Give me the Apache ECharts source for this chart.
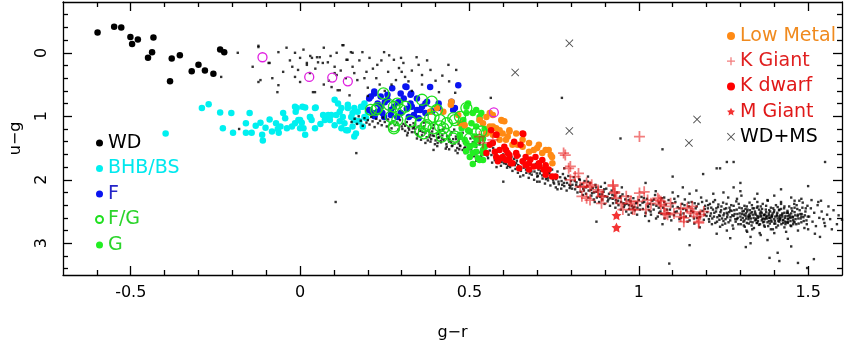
<!DOCTYPE html>
<html>
<head>
<meta charset="utf-8">
<script src="https://cdn.jsdelivr.net/npm/echarts@6/dist/echarts.min.js"></script>
<style>
  html, body { margin: 0; padding: 0; background: #fff; }
  #main { width: 850px; height: 351px; }
</style>
</head>
<body>
<div id="main"></div>
<script>
// tick values
var xMajorTicks = [-0.5, 0, 0.5, 1, 1.5];
var xMinorTicks = [-0.6, -0.4, -0.3, -0.2, -0.1, 0.1, 0.2, 0.3, 0.4, 0.6, 0.7, 0.8, 0.9, 1.1, 1.2, 1.3, 1.4];
var yMajorTicks = [0, 1, 2, 3];
var yMinorTicks = [-0.6, -0.4, -0.2, 0.2, 0.4, 0.6, 0.8, 1.2, 1.4, 1.6, 1.8, 2.2, 2.4, 2.6, 2.8, 3.2, 3.4];

// field stars (small black dots): upper scatter, stellar locus, right-side scatter
var fieldUpper = [[0.128,-0.12],[0.108,0.0],[0.05,0.07],[0.03,0.05],[0.053,0.15],[-0.006,0.27],[0.02,0.19],[0.082,0.15],[0.137,0.11],[0.155,0.0],[0.184,-0.01],[0.248,-0.01],[0.263,0.04],[0.277,0.11],[0.298,0.08],[0.344,0.07],[0.35,0.19],[0.228,0.19],[0.196,0.30],[0.292,0.24],[0.385,0.27],[0.461,0.27],[0.169,0.43],[0.225,0.40],[0.283,0.43],[0.108,0.35],[0.044,0.62],[0.111,0.59],[0.146,0.67],[0.19,0.40],[0.438,0.19],[0.458,0.63],[0.563,0.71],[0.773,0.71],[0.102,0.22],[-0.123,-0.11],[-0.184,0.0],[-0.064,-0.01],[-0.093,0.16],[-0.015,0.0],[0.0,0.08],[0.02,0.16],[0.035,0.08],[0.058,0.07],[0.067,0.16],[0.029,0.32],[-0.015,0.38],[0.0,0.46],[-0.023,0.22],[-0.082,0.40],[-0.064,0.51],[-0.067,0.62],[-0.123,0.46],[-0.117,0.43],[0.125,-0.12],[0.15,-0.01],[0.14,0.11],[0.155,0.22],[0.102,0.32],[0.117,0.59],[0.093,0.54],[0.038,0.62],[-0.233,0.38],[-0.123,-0.09],[-0.09,0.16],[0.105,2.35],[0.6,2.03],[0.166,1.58],[0.394,1.53],[-0.18,1.2],[0.3,0.3],[0.32,0.45],[0.2,0.55],[0.41,0.62],[0.07,0.5],[0.25,0.6],
[0.01,-0.05],[0.045,0.25],[0.07,-0.08],[0.09,0.05],[0.12,0.28],[0.135,0.4],[0.16,0.32],[0.175,0.12],[0.205,0.08],[0.215,0.25],[0.24,0.12],[0.26,0.3],[0.27,0.5],[0.305,0.16],[0.31,0.38],[0.33,0.28],[0.36,0.35],[0.375,0.12],[0.4,0.44],[0.42,0.36],[-0.03,0.12],[-0.05,0.3],[-0.14,0.22],[-0.04,-0.08],[0.085,0.44],[0.2,0.68],[0.235,0.5],[0.33,0.6],[0.36,0.5],[0.44,0.45]];

var fieldLocus = [
[0.152,1.09],[0.161,1.04],[0.168,1.12],[0.173,1.00],[0.179,1.07],[0.185,1.15],[0.19,1.03],[0.196,1.10],[0.2,1.06],[0.205,1.13],[0.21,1.01],[0.214,1.08],[0.22,1.17],[0.225,1.04],[0.23,1.11],[0.236,1.07],[0.241,1.14],[0.245,1.02],[0.25,1.09],[0.256,1.16],[0.26,1.05],[0.266,1.12],[0.27,1.19],[0.275,1.08],[0.28,1.14],[0.286,1.10],[0.29,1.21],[0.295,1.06],[0.3,1.16],[0.305,1.12],[0.31,1.23],[0.315,1.09],[0.32,1.18],[0.325,1.14],[0.33,1.25],[0.335,1.11],[0.34,1.20],[0.345,1.28],[0.35,1.16],[0.355,1.23],
[0.36,1.30],[0.365,1.19],[0.37,1.26],[0.374,1.33],[0.378,1.22],[0.383,1.29],[0.387,1.36],[0.39,1.24],[0.395,1.31],[0.4,1.38],[0.404,1.27],[0.408,1.34],[0.412,1.22],[0.416,1.41],[0.42,1.30],[0.424,1.37],[0.428,1.26],[0.432,1.44],[0.436,1.33],[0.44,1.40],[0.444,1.29],[0.448,1.47],[0.452,1.36],[0.456,1.43],[0.46,1.32],[0.464,1.50],[0.468,1.39],[0.472,1.46],[0.476,1.35],[0.48,1.53],[0.484,1.42],[0.488,1.49],[0.492,1.38],[0.496,1.56],[0.5,1.45],[0.505,1.52],[0.51,1.41],[0.515,1.59],[0.52,1.48],[0.525,1.55],[0.53,1.44],[0.535,1.62],[0.54,1.51],[0.545,1.58],[0.55,1.47],[0.555,1.66],[0.56,1.54],[0.565,1.61],[0.57,1.50],[0.575,1.69],[0.58,1.57],[0.585,1.64],[0.59,1.53],[0.595,1.72],[0.6,1.60],
[0.604,1.68],[0.608,1.75],[0.612,1.59],[0.616,1.71],[0.62,1.80],[0.624,1.64],[0.628,1.73],[0.632,1.67],[0.636,1.83],[0.64,1.70],[0.644,1.77],[0.648,1.62],[0.652,1.86],[0.656,1.74],[0.66,1.81],[0.664,1.69],[0.668,1.89],[0.672,1.78],[0.676,1.84],[0.68,1.72],[0.684,1.92],[0.688,1.81],[0.692,1.87],[0.696,1.75],[0.7,1.95],[0.704,1.84],[0.708,1.90],[0.712,1.78],[0.716,1.98],[0.72,1.87],[0.724,1.93],[0.728,1.81],[0.732,2.01],[0.736,1.90],[0.74,1.96],[0.744,1.84],[0.748,2.04],[0.752,1.93],[0.756,1.99],[0.76,1.87],[0.764,2.07],[0.768,1.96],[0.772,2.02],[0.776,1.91],[0.78,2.10],[0.784,1.99],[0.788,2.05],[0.792,1.94],[0.796,2.13],[0.8,2.02],[0.76,2.15],[0.7,2.03],[0.65,1.95],[0.72,1.70],[0.78,1.82],
[0.804,2.08],[0.808,1.96],[0.812,2.15],[0.816,2.04],[0.82,2.11],[0.824,1.99],[0.828,2.19],[0.832,2.07],[0.836,2.14],[0.84,2.02],[0.844,2.22],[0.848,2.10],[0.852,2.17],[0.856,2.05],[0.86,2.25],[0.864,2.13],[0.868,2.20],[0.872,2.08],[0.876,2.28],[0.88,2.16],[0.884,2.23],[0.888,2.11],[0.892,2.31],[0.896,2.19],[0.9,2.26],[0.904,2.14],[0.908,2.34],[0.912,2.22],[0.916,2.29],[0.92,2.17],[0.924,2.37],[0.928,2.25],[0.932,2.32],[0.936,2.20],[0.94,2.40],[0.944,2.28],[0.948,2.35],[0.952,2.23],[0.956,2.43],[0.96,2.31],[0.964,2.38],[0.968,2.26],[0.972,2.46],[0.976,2.34],[0.98,2.41],[0.984,2.29],[0.988,2.48],[0.992,2.37],[0.996,2.44],[1.0,2.32],[0.85,1.95],[0.9,2.05],[0.95,2.12],[0.87,2.35],[0.97,2.55],
[1.004,2.40],[1.008,2.27],[1.012,2.46],[1.016,2.35],[1.02,2.52],[1.024,2.30],[1.028,2.43],[1.032,2.38],[1.036,2.55],[1.04,2.33],[1.044,2.47],[1.048,2.24],[1.052,2.41],[1.056,2.58],[1.06,2.36],[1.064,2.50],[1.068,2.29],[1.072,2.44],[1.076,2.61],[1.08,2.39],[1.084,2.53],[1.088,2.32],[1.092,2.47],[1.096,2.64],[1.1,2.42],[1.104,2.56],[1.108,2.35],[1.112,2.50],[1.116,2.26],[1.12,2.45],[1.124,2.60],[1.128,2.38],[1.132,2.53],[1.136,2.31],[1.14,2.48],[1.144,2.66],[1.148,2.42],[1.152,2.57],[1.156,2.35],[1.16,2.51],[1.164,2.69],[1.168,2.45],[1.172,2.60],[1.176,2.38],[1.18,2.54],[1.184,2.28],[1.188,2.49],[1.192,2.63],[1.196,2.41],[1.2,2.57],[1.05,2.18],[1.1,2.20],[1.15,2.22],[1.18,2.75],[1.12,2.78],[1.03,2.65],[1.07,2.70],[1.2,2.33],[1.17,2.17],[1.13,2.12],
[1.204,2.45],[1.207,2.62],[1.21,2.38],[1.213,2.53],[1.216,2.70],[1.219,2.47],[1.222,2.58],[1.225,2.32],[1.228,2.50],[1.231,2.66],[1.234,2.43],[1.237,2.56],[1.24,2.74],[1.243,2.48],[1.246,2.61],[1.249,2.36],[1.252,2.53],[1.255,2.69],[1.258,2.45],[1.261,2.59],[1.264,2.28],[1.267,2.51],[1.27,2.64],[1.273,2.40],[1.276,2.56],[1.279,2.77],[1.282,2.48],[1.285,2.62],[1.288,2.34],[1.291,2.54],[1.294,2.70],[1.297,2.44],[1.3,2.58],[1.303,2.25],[1.306,2.50],[1.309,2.66],[1.312,2.41],[1.315,2.57],[1.318,2.80],[1.321,2.47],[1.324,2.62],[1.327,2.36],[1.33,2.53],[1.333,2.72],[1.336,2.45],[1.339,2.60],[1.342,2.30],[1.345,2.55],[1.348,2.68],[1.351,2.42],[1.354,2.58],[1.357,2.84],[1.36,2.50],[1.363,2.64],[1.366,2.38],[1.369,2.56],[1.372,2.74],[1.375,2.47],[1.378,2.61],[1.381,2.33],[1.384,2.53],[1.387,2.69],[1.39,2.44],[1.393,2.59],[1.396,2.78],[1.399,2.51],[1.402,2.65],[1.405,2.40],[1.408,2.57],[1.411,2.72],[1.414,2.48],[1.417,2.62],[1.42,2.35],[1.423,2.55],[1.426,2.68],[1.429,2.45],[1.432,2.60],[1.435,2.82],[1.438,2.52],[1.441,2.66],[1.444,2.42],[1.447,2.58],[1.45,2.73],[1.453,2.49],[1.456,2.63],[1.459,2.38],[1.462,2.56],[1.465,2.70],[1.468,2.46],[1.471,2.61],[1.474,2.33],[1.477,2.54],[1.48,2.67],[1.483,2.44],[1.486,2.59],[1.489,2.76],[1.492,2.50],[1.495,2.64],[1.498,2.41],
[1.302,2.63],[1.311,2.55],[1.319,2.68],[1.326,2.59],[1.334,2.51],[1.343,2.64],[1.35,2.57],[1.358,2.70],[1.365,2.62],[1.373,2.55],[1.38,2.67],[1.388,2.60],[1.395,2.53],[1.403,2.69],[1.41,2.61],[1.418,2.56],[1.425,2.64],[1.433,2.70],[1.44,2.57],[1.448,2.65],[1.455,2.59],[1.363,2.52],[1.392,2.66],[1.376,2.59],[1.415,2.66],[1.346,2.61],[1.33,2.66],[1.317,2.61],[1.28,2.57],[1.26,2.52],[1.24,2.57],[1.43,2.52],[1.46,2.67],[1.47,2.55],[1.385,2.48],[1.355,2.47],[1.315,2.46],[1.41,2.43],[1.44,2.62],[1.37,2.66],
[1.25,2.2],[1.3,2.18],[1.35,2.22],[1.4,2.25],[1.45,2.28],[1.28,2.12],[1.42,2.15],[1.48,2.3],[1.22,2.22],[1.33,2.9],[1.38,2.95],[1.27,2.92],[1.44,2.93],[1.23,2.85],
[1.503,2.58],[1.508,2.45],[1.513,2.66],[1.518,2.52],[1.523,2.73],[1.528,2.40],[1.533,2.60],[1.54,2.50],[1.548,2.68],[1.556,2.55],[1.565,2.62],[1.575,2.48],[1.585,2.7],[1.52,2.85],[1.51,2.32]
];

// second pass over the locus, where the band is densest
var fieldLocusDense = [
[0.302,1.20],[0.318,1.26],[0.333,1.19],[0.348,1.31],[0.362,1.25],[0.377,1.38],[0.391,1.30],[0.406,1.42],[0.419,1.35],[0.433,1.48],[0.446,1.41],[0.459,1.54],[0.473,1.47],[0.487,1.58],[0.499,1.52],[0.513,1.63],[0.527,1.57],[0.541,1.68],[0.553,1.62],[0.567,1.73],[0.581,1.67],[0.593,1.78],[0.345,1.35],[0.405,1.47],[0.465,1.58],[0.52,1.70],[0.58,1.80],[0.37,1.42],[0.44,1.52],[0.5,1.62],
[0.31,1.15],[0.322,1.21],[0.336,1.17],[0.352,1.22],[0.366,1.16],[0.381,1.24],[0.393,1.19],[0.407,1.28],[0.421,1.22],[0.434,1.31],[0.448,1.25],[0.461,1.36],[0.474,1.29],[0.489,1.40],[0.503,1.35],[0.517,1.46],[0.531,1.40],[0.546,1.52],[0.316,1.30],[0.338,1.25],[0.357,1.37],[0.382,1.33],[0.398,1.44],[0.415,1.39],[0.43,1.51],[0.45,1.46],[0.468,1.43],[0.485,1.50],[0.51,1.55],[0.365,1.10],[0.395,1.14],[0.425,1.18],[0.455,1.21],[0.48,1.26],[0.34,1.13],[0.41,1.33],[0.44,1.36],[0.47,1.52],[0.385,1.40],[0.52,1.60],
[0.602,1.74],[0.611,1.81],[0.619,1.70],[0.627,1.86],[0.634,1.77],[0.643,1.89],[0.651,1.80],[0.659,1.93],[0.667,1.84],[0.675,1.97],[0.683,1.87],[0.691,2.00],[0.699,1.90],[0.707,2.03],[0.715,1.93],[0.723,2.06],[0.731,1.97],[0.739,2.09],[0.747,2.00],[0.755,2.12],[0.763,2.03],[0.771,2.14],[0.779,2.05],[0.787,2.17],[0.795,2.08],[0.606,1.65],[0.638,1.74],[0.662,1.76],[0.686,1.80],[0.711,1.86],[0.734,1.88],[0.758,1.95],[0.782,1.97],[0.614,1.78],[0.646,1.84],[0.678,1.90],[0.702,1.94],[0.726,1.99],[0.75,2.06],[0.774,2.08],[0.798,2.10],
[0.803,2.14],[0.811,2.02],[0.819,2.20],[0.827,2.09],[0.835,2.24],[0.843,2.12],[0.851,2.28],[0.859,2.16],[0.867,2.31],[0.875,2.19],[0.883,2.35],[0.891,2.23],[0.899,2.38],[0.907,2.27],[0.915,2.41],[0.923,2.30],[0.931,2.44],[0.939,2.33],[0.947,2.47],[0.955,2.37],[0.963,2.50],[0.971,2.40],[0.979,2.52],[0.987,2.43],[0.995,2.55],[0.815,2.08],[0.838,2.17],[0.862,2.21],[0.886,2.27],[0.91,2.31],[0.934,2.36],[0.958,2.40],[0.982,2.45],[0.826,2.00],[0.85,2.03],[0.874,2.12],[0.898,2.15],[0.922,2.24],[0.946,2.26],[0.97,2.32],[0.994,2.36],
[1.003,2.47],[1.011,2.36],[1.019,2.57],[1.027,2.41],[1.035,2.50],[1.043,2.39],[1.051,2.61],[1.059,2.44],[1.067,2.54],[1.075,2.35],[1.083,2.47],[1.091,2.58],[1.099,2.37],[1.107,2.51],[1.115,2.43],[1.123,2.55],[1.131,2.46],[1.139,2.58],[1.147,2.36],[1.155,2.49],[1.163,2.61],[1.171,2.42],[1.179,2.52],[1.187,2.35],[1.195,2.55],[1.015,2.29],[1.045,2.31],[1.075,2.28],[1.105,2.30],[1.135,2.40],[1.165,2.37],[1.195,2.46],[1.03,2.48],[1.06,2.52],[1.09,2.53],[1.12,2.62],[1.15,2.64],[1.18,2.59],
[1.202,2.51],[1.205,2.40],[1.208,2.66],[1.211,2.57],[1.214,2.44],[1.217,2.61],[1.22,2.35],[1.223,2.52],[1.226,2.68],[1.229,2.45],[1.232,2.59],[1.235,2.39],[1.238,2.63],[1.241,2.51],[1.244,2.42],[1.247,2.71],[1.25,2.56],[1.253,2.46],[1.256,2.62],[1.259,2.38],[1.262,2.55],[1.265,2.67],[1.268,2.44],[1.271,2.59],[1.274,2.49],[1.277,2.72],[1.28,2.41],[1.283,2.54],[1.286,2.66],[1.289,2.47],[1.292,2.60],[1.295,2.38],[1.298,2.53],[1.301,2.70],[1.304,2.45],[1.307,2.60],[1.31,2.49],[1.313,2.74],[1.316,2.53],[1.319,2.42],[1.322,2.58],[1.325,2.69],[1.328,2.48],[1.331,2.61],[1.334,2.40],[1.337,2.55],[1.34,2.76],[1.343,2.50],[1.346,2.63],[1.349,2.44],[1.352,2.60],[1.355,2.71],[1.358,2.53],[1.361,2.58],[1.364,2.46],[1.367,2.67],[1.37,2.55],[1.373,2.62],[1.376,2.41],[1.379,2.57],[1.382,2.73],[1.385,2.60],[1.388,2.50],[1.391,2.64],[1.394,2.56],[1.397,2.45],[1.4,2.62],[1.403,2.58],[1.406,2.75],[1.409,2.52],[1.412,2.65],[1.415,2.47],[1.418,2.60],[1.421,2.70],[1.424,2.53],[1.427,2.63],[1.43,2.42],[1.433,2.57],[1.436,2.67],[1.439,2.49],[1.442,2.61],[1.445,2.55],[1.448,2.72],[1.451,2.45],[1.454,2.58],[1.457,2.66],[1.46,2.51],[1.463,2.62],[1.466,2.40],[1.469,2.57],[1.472,2.69],[1.475,2.48],[1.478,2.61],[1.481,2.54],[1.484,2.36],[1.487,2.65],[1.49,2.56],[1.493,2.45],[1.496,2.70],[1.499,2.58],
[1.305,2.54],[1.312,2.64],[1.32,2.50],[1.328,2.57],[1.336,2.67],[1.344,2.53],[1.352,2.65],[1.36,2.56],[1.368,2.61],[1.376,2.51],[1.384,2.65],[1.392,2.57],[1.4,2.69],[1.408,2.55],[1.416,2.63],[1.424,2.58],[1.432,2.66],[1.44,2.52],[1.448,2.60],[1.456,2.70],[1.31,2.72],[1.34,2.45],[1.37,2.72],[1.4,2.48],[1.43,2.75],[1.46,2.44],[1.29,2.62],[1.27,2.48],[1.25,2.65],[1.48,2.58],[1.36,2.42],[1.39,2.78],[1.42,2.46],[1.335,2.78],[1.45,2.53],[1.35,2.68],[1.385,2.56],[1.415,2.58],[1.325,2.55],[1.44,2.68],
[1.35,2.35],[1.38,2.32],[1.42,2.38],[1.46,2.33],[1.29,2.30],[1.32,2.82],[1.36,2.87],[1.4,2.84],[1.47,2.80],[1.26,2.80],[1.5,2.78],[1.53,2.35],[1.56,2.42],[1.59,2.56],[1.545,2.62],[1.57,2.78],[1.6,2.63],[1.535,2.9]
];

var fieldRight = [[0.946,1.35],[1.07,1.52],[1.26,1.72],[1.28,1.72],[1.23,1.82],[1.19,1.91],[1.55,1.72],[1.09,3.32],[0.875,2.66],[1.386,3.23],[1.415,3.28],[1.47,3.31],[1.517,3.25],[1.316,3.06],[1.15,3.03],[1.55,2.73],[1.538,2.33],[1.497,3.39],[1.41,3.15],[1.24,1.82],[1.33,3.0],[1.45,3.05],[1.3,2.05],[1.5,2.1],[1.1,1.95],[1.02,2.05]];

var wdStars = [[-0.598,-0.32],[-0.549,-0.41],[-0.528,-0.40],[-0.501,-0.25],[-0.496,-0.14],[-0.479,-0.21],[-0.433,-0.24],[-0.437,-0.01],[-0.449,0.08],[-0.379,0.09],[-0.355,0.04],[-0.384,0.45],[-0.32,0.29],[-0.3,0.19],[-0.281,0.28],[-0.256,0.33],[-0.236,-0.05],[-0.224,-0.01]];

var bhbStars = [[-0.397,1.27],[-0.29,0.87],[-0.27,0.81],[-0.236,0.94],[-0.203,0.95],[-0.228,1.19],[-0.198,1.26],[-0.16,1.11],[-0.149,0.95],[-0.16,1.26],[-0.143,1.26],[-0.131,1.15],[-0.117,1.10],[-0.112,1.29],[-0.11,1.38],[-0.102,1.18],[-0.083,1.24],[-0.071,1.11],[-0.063,1.26],[-0.058,1.16],[-0.044,1.03],[-0.039,1.19],[-0.024,1.16],[-0.015,0.85],[-0.013,0.93],[-0.005,1.06],[0.007,0.85],[0.0,1.19],[-0.066,1.20],[-0.015,1.11],[0.005,1.10],[0.015,0.86],[0.01,1.19],[0.029,1.01],[0.034,1.06],[0.044,1.19],[0.046,0.86],[0.015,1.29],[0.068,0.98],[0.073,1.06],[0.078,1.01],[0.088,1.06],[0.092,0.98],[0.112,0.80],[0.117,0.93],[0.122,0.87],[0.126,1.01],[0.131,1.11],[0.141,0.87],[0.151,1.01],[0.16,1.06],[0.155,1.16],[0.17,0.93],[0.18,0.85],[0.175,1.08],[0.165,1.27],[0.102,1.14],[0.122,1.19],[0.136,1.22],[0.102,0.74],[0.141,0.82],[0.155,0.95],[0.16,1.32],[0.141,1.22],[0.185,0.85],[0.19,1.01],[0.2,0.93],[0.083,0.98],[0.107,0.98],[0.117,1.08],[0.17,1.08],[0.16,0.87],[0.185,1.16],[0.19,0.80],[0.195,1.03],[0.03,1.01],[0.0,1.06],[0.044,0.87],[-0.01,0.87],[0.06,1.12],[-0.09,1.05],[-0.05,0.95]];

var fStars = [[0.219,0.61],[0.204,0.72],[0.238,0.69],[0.272,0.56],[0.297,0.64],[0.314,0.54],[0.328,0.64],[0.384,0.54],[0.467,0.51],[0.229,0.80],[0.258,0.74],[0.277,0.85],[0.306,0.72],[0.214,0.95],[0.243,0.95],[0.326,0.80],[0.345,0.90],[0.336,0.98],[0.36,0.85],[0.37,0.80],[0.447,0.77],[0.457,0.87],[0.452,0.90],[0.409,0.87],[0.238,0.85],[0.268,0.98],[0.297,0.95],[0.204,0.90],[0.311,0.53],[0.209,0.69],[0.219,0.64],[0.258,0.66],[0.326,0.66],[0.345,0.72],[0.33,0.85],[0.355,0.90],[0.268,0.90],[0.229,0.93],[0.248,1.01],[0.287,1.01],[0.321,1.01],[0.409,0.80],[0.375,0.77],[0.35,1.03],[0.25,0.78],[0.29,0.78],[0.315,0.88],[0.22,1.0],[0.37,0.95],[0.39,0.92]];

var fgStars = [[0.246,0.64],[0.224,0.90],[0.277,0.85],[0.297,0.90],[0.311,0.85],[0.268,1.01],[0.277,1.16],[0.36,0.74],[0.389,0.77],[0.384,1.03],[0.413,1.06],[0.423,1.19],[0.374,1.14],[0.355,1.11],[0.457,1.32],[0.428,1.27],[0.355,1.24],[0.326,1.08],[0.404,0.90],[0.452,1.03],[0.209,0.9],[0.229,0.87],[0.263,0.82],[0.287,0.80],[0.287,1.06],[0.277,1.19],[0.37,1.16],[0.394,1.19],[0.413,1.16],[0.452,1.35],[0.418,1.32],[0.365,1.27],[0.394,1.01],[0.433,1.11],[0.457,1.06],[0.472,1.01],[0.491,0.87],[0.52,1.27],[0.53,1.37],[0.501,1.35],[0.535,1.24]];

var gStars = [[0.496,0.80],[0.52,0.90],[0.491,0.95],[0.482,1.06],[0.506,1.11],[0.53,1.06],[0.496,1.22],[0.515,1.32],[0.486,1.37],[0.501,1.48],[0.52,1.56],[0.54,1.53],[0.501,1.64],[0.525,1.66],[0.54,1.69],[0.535,0.95],[0.54,1.35],[0.472,1.29],[0.477,1.19],[0.491,0.85],[0.51,0.95],[0.53,1.01],[0.482,1.11],[0.501,1.24],[0.525,1.37],[0.491,1.42],[0.51,1.58],[0.54,1.58],[0.53,1.69],[0.545,1.48],[0.472,1.32],[0.52,1.16],[0.55,1.27],[0.51,1.75],[0.49,1.55],[0.545,1.2],[0.515,1.45]];

var lowMetalStars = [[0.447,0.77],[0.404,0.87],[0.423,0.93],[0.384,0.93],[0.467,0.98],[0.55,1.01],[0.56,0.95],[0.54,1.11],[0.56,1.16],[0.579,1.19],[0.594,1.06],[0.598,1.27],[0.569,1.29],[0.589,1.37],[0.613,1.32],[0.618,1.22],[0.472,1.11],[0.486,1.14],[0.55,1.27],[0.596,1.07],[0.589,1.22],[0.618,1.24],[0.638,1.27],[0.608,1.37],[0.657,1.37],[0.676,1.42],[0.705,1.45],[0.7,1.50],[0.725,1.53],[0.74,1.61],[0.745,1.74],[0.627,1.45],[0.657,1.48],[0.569,1.16],[0.53,1.06],[0.569,0.98],[0.603,1.08],[0.642,1.45],[0.676,1.56],[0.734,1.53],[0.744,1.64],[0.715,1.58],[0.69,1.53],[0.445,0.82]];

var kGiantStars = [[1.002,1.32],[0.778,1.58],[0.798,1.79],[0.812,1.95],[0.827,2.11],[0.846,2.05],[0.832,2.26],[0.856,2.32],[0.88,2.19],[0.89,2.26],[0.924,2.08],[0.929,2.19],[0.934,2.29],[0.963,2.26],[0.973,2.37],[0.997,2.34],[1.016,2.19],[1.026,2.32],[1.056,2.29],[1.065,2.39],[1.08,2.53],[0.953,2.47],[0.988,2.47],[0.856,2.11],[0.798,2.0],[0.53,1.32],[0.54,1.42],[0.569,1.37],[0.783,1.61],[0.793,1.82],[0.822,1.90],[0.837,2.11],[0.861,2.08],[0.88,2.16],[0.895,2.26],[0.924,2.10],[0.929,2.21],[0.977,2.34],[1.002,2.21],[1.021,2.47],[1.036,2.37],[1.06,2.32],[1.075,2.42],[1.085,2.55],[1.104,2.53],[1.124,2.58],[1.143,2.45],[1.153,2.5],[1.172,2.58],[1.177,2.66],[1.192,2.5],[1.133,2.66],[0.846,2.29],[0.89,2.37],[0.948,2.37],[0.982,2.47],[1.065,2.34],[1.094,2.37],[1.124,2.45],[1.158,2.42],[1.162,2.53],[1.177,2.68],[1.182,2.55],[1.133,2.6],[1.075,2.53]];

var kDwarfStars = [[0.579,1.29],[0.56,1.45],[0.575,1.56],[0.589,1.53],[0.603,1.48],[0.613,1.58],[0.594,1.66],[0.618,1.69],[0.579,1.64],[0.55,1.58],[0.564,1.22],[0.58,1.29],[0.632,1.40],[0.657,1.27],[0.569,1.42],[0.608,1.53],[0.638,1.58],[0.666,1.64],[0.598,1.64],[0.676,1.74],[0.705,1.79],[0.734,1.84],[0.754,1.95],[0.725,1.92],[0.647,1.82],[0.622,1.74],[0.584,1.71],[0.659,1.28],[0.651,1.45],[0.618,1.61],[0.657,1.71],[0.627,1.74],[0.666,1.77],[0.69,1.79],[0.705,1.74],[0.719,1.84],[0.725,1.77],[0.695,1.64],[0.715,1.69],[0.744,1.95],[0.676,1.84],[0.608,1.69],[0.64,1.62],[0.68,1.68]];

var mGiantStars = [[0.934,2.56],[0.934,2.75]];
var wdmsStars = [[0.795,-0.15],[0.635,0.31],[0.795,1.23],[1.172,1.05],[1.148,1.42]];
var otherStars = [[-0.111,0.07],[0.027,0.38],[0.095,0.39],[0.141,0.45],[0.572,0.94]];

var FONT = 'DejaVu Sans';
var plusPath = 'path://M-0.8,-5H0.8V-0.8H5V0.8H0.8V5H-0.8V0.8H-5V-0.8H-0.8Z';
var crossPath = 'path://M-5,-4.2L-4.2,-5L0,-0.8L4.2,-5L5,-4.2L0.8,0L5,4.2L4.2,5L0,0.8L-4.2,5L-5,4.2L-0.8,0Z';
var starPath = 'path://M0,-10L2.9,-4L9.5,-3.1L4.7,1.5L5.9,8.1L0,5L-5.9,8.1L-4.7,1.5L-9.5,-3.1L-2.9,-4Z';

var lineStyle = {color: '#000', width: 1.3};

function xAxisDef(pos, ticks, len, main) {
    return {
        type: 'value', min: -0.7, max: 1.6, position: pos,
        axisLine: {show: main, onZero: false, lineStyle: lineStyle},
        axisTick: {show: true, inside: true, length: len, customValues: ticks, lineStyle: lineStyle},
        axisLabel: {show: main && pos === 'bottom', customValues: ticks, margin: 10, color: '#000', fontFamily: FONT, fontSize: 16},
        splitLine: {show: false},
        name: (main && pos === 'bottom') ? 'g\u2212r' : '',
        nameLocation: 'middle', nameGap: 50,
        nameTextStyle: {color: '#000', fontFamily: FONT, fontSize: 16}
    };
}
function yAxisDef(pos, ticks, len, main) {
    return {
        type: 'value', min: -0.8, max: 3.5, inverse: true, position: pos,
        axisLine: {show: main, onZero: false, lineStyle: lineStyle},
        axisTick: {show: true, inside: true, length: len, customValues: ticks, lineStyle: lineStyle},
        axisLabel: {show: main && pos === 'left', customValues: ticks, rotate: 90, margin: 13, color: '#000', fontFamily: FONT, fontSize: 16},
        splitLine: {show: false},
        name: (main && pos === 'left') ? 'u\u2212g' : '',
        nameLocation: 'middle', nameGap: 39, nameRotate: 90,
        nameTextStyle: {color: '#000', fontFamily: FONT, fontSize: 16}
    };
}

function dots(name, data, color, size, z) {
    return {name: name, type: 'scatter', data: data, symbol: 'circle', symbolSize: size,
        itemStyle: {color: color, opacity: 1}, z: z, silent: true};
}
function rings(name, data, color, size, z) {
    return {name: name, type: 'scatter', data: data, symbol: 'circle', symbolSize: size,
        itemStyle: {color: 'rgba(0,0,0,0)', borderColor: color, borderWidth: 1.3, opacity: 1}, z: z, silent: true};
}

var series = [
    dots('BHB/BS', bhbStars, '#00f0f0', 6.5, 2),
    dots('F', fStars, '#0a14f0', 6.5, 3),
    {name: 'field', type: 'scatter', data: fieldUpper.concat(fieldLocus, fieldLocusDense, fieldRight), symbol: 'rect', symbolSize: 2.4,
        itemStyle: {color: '#000'}, z: 4, silent: true},
    dots('G', gStars, '#22ee22', 6.5, 5),
    dots('Low Metal', lowMetalStars, '#ff8a14', 6.5, 6),
    dots('K dwarf', kDwarfStars, '#ff0000', 6.5, 7),
    rings('F/G', fgStars, '#1ee01e', 11, 8),
    {name: 'K Giant', type: 'scatter', data: kGiantStars, symbol: plusPath, symbolSize: 11,
        itemStyle: {color: 'rgba(232,24,24,0.7)'}, z: 9, silent: true},
    {name: 'M Giant', type: 'scatter', data: mGiantStars, symbol: starPath, symbolSize: 10,
        itemStyle: {color: '#f00000'}, z: 10, silent: true},
    dots('WD', wdStars, '#000', 6.5, 11),
    {name: 'WD+MS', type: 'scatter', data: wdmsStars, symbol: crossPath, symbolSize: 8,
        itemStyle: {color: '#222'}, z: 12, silent: true},
    rings('other', otherStars, '#e020e0', 9, 12)
];

var legendText = {fontFamily: FONT, fontSize: 19, lineHeight: 20};
function legendItem(name, color) {
    return {name: name, textStyle: {color: color}};
}

var option = {
    animation: false,
    backgroundColor: '#fff',
    grid: {left: 56, right: 8, top: 2, bottom: 76},
    xAxis: [
        xAxisDef('bottom', xMajorTicks, 9, true),
        xAxisDef('bottom', xMinorTicks, 5, false),
        xAxisDef('top', xMajorTicks, 9, true),
        xAxisDef('top', xMinorTicks, 5, false)
    ],
    yAxis: [
        yAxisDef('left', yMajorTicks, 9, true),
        yAxisDef('left', yMinorTicks, 5, false),
        yAxisDef('right', yMajorTicks, 9, true),
        yAxisDef('right', yMinorTicks, 5, false)
    ],
    legend: [
        {
            orient: 'vertical', left: 90, top: 128, itemWidth: 7, itemHeight: 7, itemGap: 5.5,
            selectedMode: false, textStyle: legendText,
            data: [legendItem('WD', '#000'), legendItem('BHB/BS', '#00e8ee'), legendItem('F', '#2424c8'),
                   legendItem('F/G', '#2ad42a'), legendItem('G', '#2ad42a')]
        },
        {
            orient: 'vertical', left: 722, top: 21, itemWidth: 8, itemHeight: 8, itemGap: 5.2,
            selectedMode: false, textStyle: legendText,
            data: [legendItem('Low Metal', '#f08a1e'), legendItem('K Giant', '#e02020'), legendItem('K dwarf', '#e01818'),
                   legendItem('M Giant', '#e01818'), legendItem('WD+MS', '#000')]
        }
    ],
    series: series
};

var myChart = echarts.init(document.getElementById('main'));
myChart.setOption(option);
</script>
</body>
</html>
